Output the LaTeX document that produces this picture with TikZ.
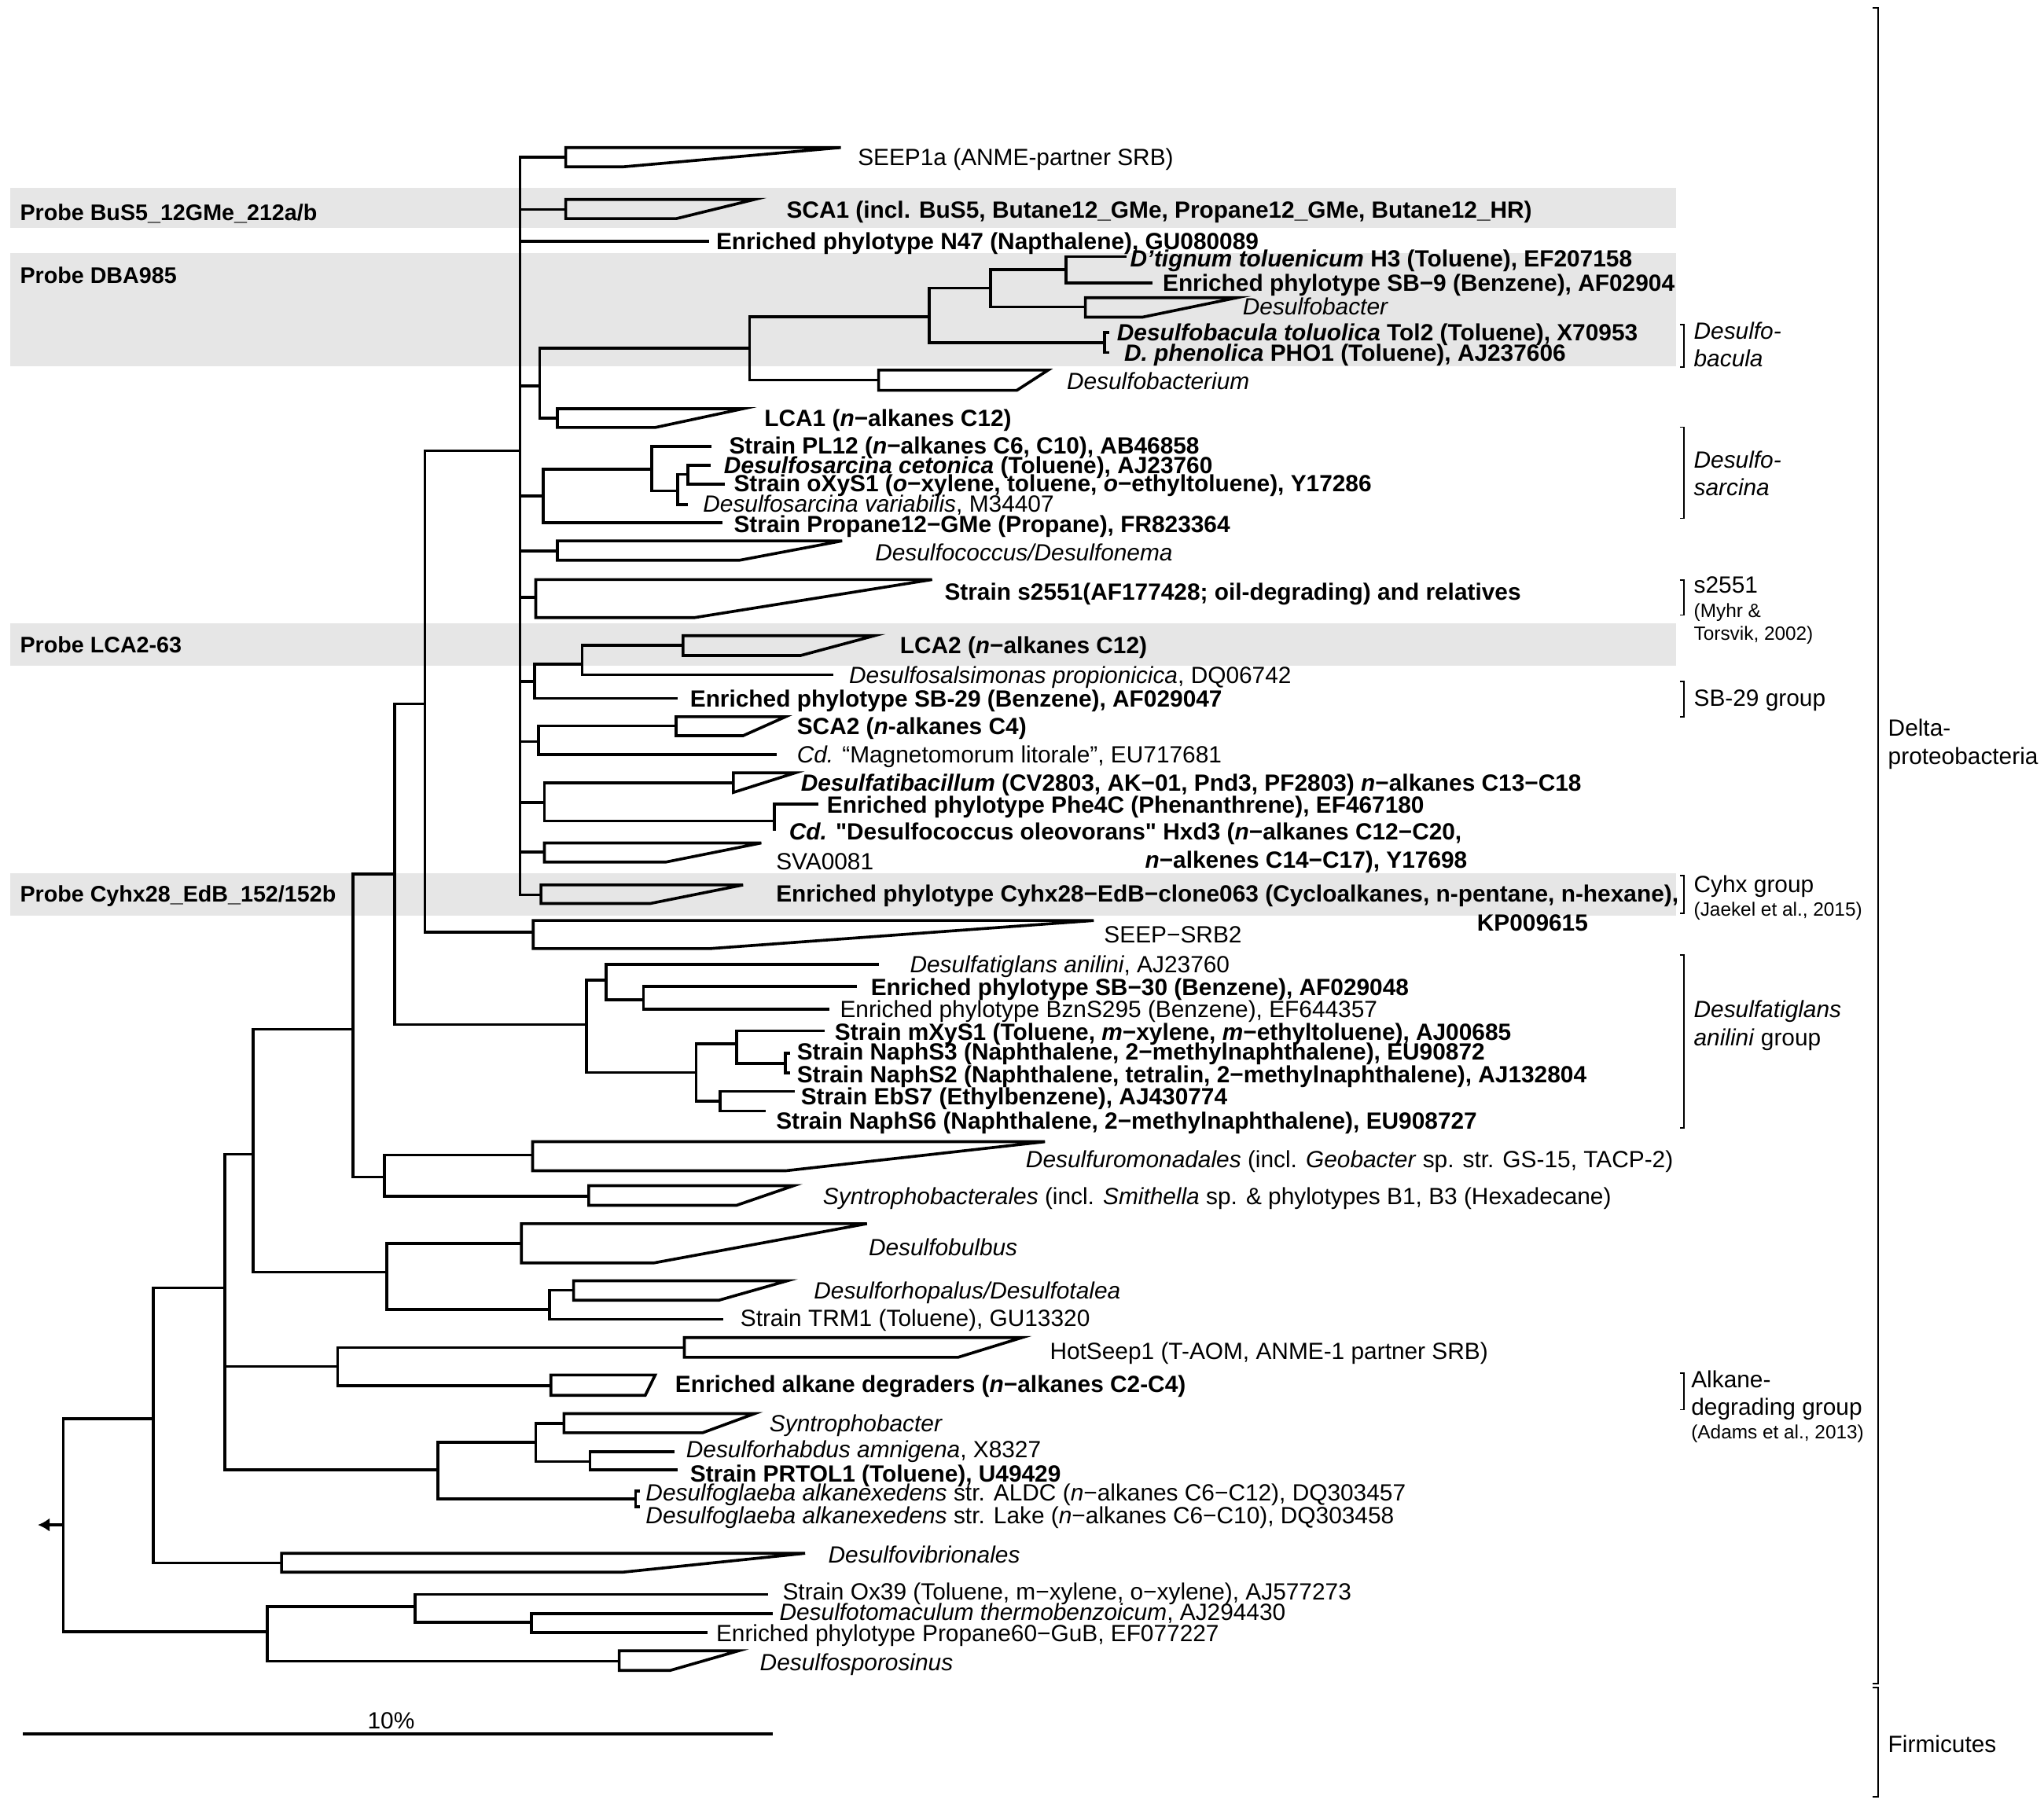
\documentclass[tikz,border=0pt]{standalone}
\usepackage{fontspec}
\setmainfont{Liberation Sans}[Ligatures=TeXOff]
\usetikzlibrary{arrows.meta}
\definecolor{probegray}{RGB}{230,230,230}
\tikzset{
  br/.style={line width=1.1pt,line join=miter},
  brk/.style={line width=0.5pt},
  lab/.style={anchor=west,inner sep=0pt,text height=6.5pt,text depth=0pt,font=\fontsize{9}{10}\selectfont},
  blab/.style={lab,font=\fontsize{9}{10}\selectfont\bfseries},
  ilab/.style={lab,font=\fontsize{9}{10}\selectfont\itshape},
  slab/.style={lab,text height=5.3pt,font=\fontsize{7.35}{8}\selectfont},
  plab/.style={lab,text height=6.2pt,font=\fontsize{8.65}{10}\selectfont\bfseries}
}
\begin{document}
\begin{tikzpicture}[x=0.5pt,y=-0.5pt]
\useasboundingbox (0,0) rectangle (1568,1386);
% probe bands
\fill[probegray] (8,144) rectangle (1285.7,175);
\fill[probegray] (8,194.3) rectangle (1285.7,281);
\fill[probegray] (8,478) rectangle (1285.7,511);
\fill[probegray] (8,670) rectangle (1285.7,702.6);
\node[plab] (p-bus5) at (15,163) {Probe BuS5\_12GMe\_212a/b};
\node[plab] (p-dba) at (15,211) {Probe DBA985};
\node[plab] (p-lca2) at (15,494.6) {Probe LCA2-63};
\node[plab] (p-cyhx) at (15,685.8) {Probe Cyhx28\_EdB\_152/152b};

% inner nodes
\coordinate (r0) at (48.5,1170);
\coordinate (n117) at (117.5,1088.7);
\coordinate (n172) at (172.5,988.2);
\coordinate (n194) at (194,885.6);
\coordinate (n270) at (270.6,789.7);
\coordinate (n302) at (302.6,670.5);
\coordinate (n326) at (326,540);
\coordinate (n399) at (399,345.8);
\coordinate (n414) at (414,296);
\coordinate (n575) at (575,267);
\coordinate (n713) at (713,243);
\coordinate (n760) at (760,221);
\coordinate (n818) at (817.6,206.7);
\coordinate (n847) at (847.5,263);
\coordinate (n417) at (416.6,380.6);
\coordinate (n500) at (500,360);
\coordinate (n520) at (520,376.6);
\coordinate (n527) at (527.5,364);
\coordinate (n410) at (410,522.7);
\coordinate (n446) at (446.6,509.7);
\coordinate (n413) at (413,569);
\coordinate (n418) at (417.6,615.6);
\coordinate (n594) at (594,629.9);
\coordinate (n450) at (450,786);
\coordinate (n465) at (465,752);
\coordinate (n494) at (493.6,767);
\coordinate (n534) at (534,822.9);
\coordinate (n565) at (565,800.8);
\coordinate (n603) at (602.6,815.8);
\coordinate (n553) at (552.6,845);
\coordinate (n295) at (295,903);
\coordinate (n296) at (296.6,976);
\coordinate (n421) at (421.6,1004.6);
\coordinate (n259) at (259,1048.5);
\coordinate (n336) at (336,1127.9);
\coordinate (n411) at (411,1106.8);
\coordinate (n453) at (452.6,1121.4);
\coordinate (n488) at (487.6,1150);
\coordinate (n205) at (205,1252);
\coordinate (n319) at (318.6,1232.8);
\coordinate (n408) at (407.6,1244.9);

% stems of collapsed groups
\coordinate (c-seep1a) at (434,120.6);
\coordinate (c-sca1) at (434,160.8);
\coordinate (c-dbacter) at (832.6,235.6);
\coordinate (c-dbacterium) at (674,291.5);
\coordinate (c-lca1) at (427.6,320.7);
\coordinate (c-dcoccus) at (427.6,422.8);
\coordinate (c-s2551) at (411,458.4);
\coordinate (c-lca2) at (524,495);
\coordinate (c-sca2) at (518.6,557);
\coordinate (c-dbacil) at (562.6,600.7);
\coordinate (c-sva) at (417.6,653.8);
\coordinate (c-cyhx) at (415,686.6);
\coordinate (c-srb2) at (409,715.3);
\coordinate (c-dmonad) at (408.6,886.2);
\coordinate (c-synales) at (451.6,917.8);
\coordinate (c-dbulbus) at (400,954);
\coordinate (c-drhop) at (440,990);
\coordinate (c-hotseep) at (525,1034);
\coordinate (c-alkdeg) at (422.6,1063.1);
\coordinate (c-synbac) at (432.6,1092);
\coordinate (c-dvib) at (216,1199.2);
\coordinate (c-dspor) at (475,1274.6);

% leaf tips
\coordinate (t-n47) at (544,185);
\coordinate (t-dtig) at (864,197);
\coordinate (t-sb9) at (884,217);
\coordinate (t-dtol) at (851,255);
\coordinate (t-dphe) at (851,270.4);
\coordinate (t-pl12) at (546,342.4);
\coordinate (t-ceto) at (545,357);
\coordinate (t-oxys) at (556,371.5);
\coordinate (t-vari) at (527.5,387);
\coordinate (t-prop12) at (554,401);
\coordinate (t-salsi) at (639,517.7);
\coordinate (t-sb29) at (520,535.8);
\coordinate (t-magn) at (596,579);
\coordinate (t-phe4c) at (627.6,616.8);
\coordinate (t-oleo) at (594,637.3);
\coordinate (t-anil) at (674,739.8);
\coordinate (t-sb30) at (657.6,757);
\coordinate (t-bzns) at (636,774.4);
\coordinate (t-mxys) at (632.6,791);
\coordinate (t-naph3) at (606,808);
\coordinate (t-naph2) at (606,823);
\coordinate (t-ebs7) at (610,837.4);
\coordinate (t-naph6) at (587.6,852.4);
\coordinate (t-trm1) at (555,1012.3);
\coordinate (t-amni) at (517.6,1113.8);
\coordinate (t-prtol) at (520,1127.9);
\coordinate (t-glaA) at (491,1144);
\coordinate (t-glaL) at (491,1156);
\coordinate (t-ox39) at (589,1223.4);
\coordinate (t-thermo) at (592.6,1238);
\coordinate (t-prop60) at (542.6,1252.5);

% branches
\draw[br] (r0) |- (n117) (r0) |- (n205);
\draw[br] (n117) |- (n172) (n117) |- (c-dvib);
\draw[br] (n172) |- (n194) (n172) |- (n259) (n172) |- (n336);
\draw[br] (n194) |- (n270) (n194) |- (n296);
\draw[br] (n270) |- (n302) (n270) |- (n295);
\draw[br] (n302) |- (n326) (n302) |- (n450);
\draw[br] (n326) |- (n399) (n326) |- (c-srb2);
\draw[br] (n399) |- (c-seep1a) (n399) |- (c-sca1) (n399) |- (t-n47) (n399) |- (n414)
  (n399) |- (n417) (n399) |- (c-dcoccus) (n399) |- (c-s2551) (n399) |- (n410)
  (n399) |- (n413) (n399) |- (n418) (n399) |- (c-sva) (n399) |- (c-cyhx);
\draw[br] (n414) |- (n575) (n414) |- (c-lca1);
\draw[br] (n575) |- (n713) (n575) |- (c-dbacterium);
\draw[br] (n713) |- (n760) (n713) |- (n847);
\draw[br] (n760) |- (n818) (n760) |- (c-dbacter);
\draw[br] (n818) |- (t-dtig) (n818) |- (t-sb9);
\draw[br] (n847) |- (t-dtol) (n847) |- (t-dphe);
\draw[br] (n417) |- (n500) (n417) |- (t-prop12);
\draw[br] (n500) |- (t-pl12) (n500) |- (n520);
\draw[br] (n520) |- (n527) (n520) |- (t-vari);
\draw[br] (n527) |- (t-ceto) (n527) |- (t-oxys);
\draw[br] (n410) |- (n446) (n410) |- (t-sb29);
\draw[br] (n446) |- (c-lca2) (n446) |- (t-salsi);
\draw[br] (n413) |- (c-sca2) (n413) |- (t-magn);
\draw[br] (n418) |- (c-dbacil) (n418) |- (n594);
\draw[br] (n594) |- (t-phe4c) (n594) |- (t-oleo);
\draw[br] (n450) |- (n465) (n450) |- (n534);
\draw[br] (n465) |- (t-anil) (n465) |- (n494);
\draw[br] (n494) |- (t-sb30) (n494) |- (t-bzns);
\draw[br] (n534) |- (n565) (n534) |- (n553);
\draw[br] (n565) |- (t-mxys) (n565) |- (n603);
\draw[br] (n603) |- (t-naph3) (n603) |- (t-naph2);
\draw[br] (n553) |- (t-ebs7) (n553) |- (t-naph6);
\draw[br] (n295) |- (c-dmonad) (n295) |- (c-synales);
\draw[br] (n296) |- (c-dbulbus) (n296) |- (n421);
\draw[br] (n421) |- (c-drhop) (n421) |- (t-trm1);
\draw[br] (n259) |- (c-hotseep) (n259) |- (c-alkdeg);
\draw[br] (n336) |- (n411) (n336) |- (n488);
\draw[br] (n411) |- (c-synbac) (n411) |- (n453);
\draw[br] (n453) |- (t-amni) (n453) |- (t-prtol);
\draw[br] (n488) |- (t-glaA) (n488) |- (t-glaL);
\draw[br] (n205) |- (n319) (n205) |- (c-dspor);
\draw[br] (n319) |- (t-ox39) (n319) |- (n408);
\draw[br] (n408) |- (t-thermo) (n408) |- (t-prop60);
\coordinate (rootarrow) at (29,1170);
\draw[br,-{Latex[length=4.5pt,width=5.2pt]}] (r0) -- (rootarrow);

% collapsed groups
\draw[br] (434,113.2) -- (645,113.2) -- (478,128) -- (434,128) -- cycle;
\draw[br] (434,153) -- (579,153) -- (519,167.7) -- (434,167.7) -- cycle;
\draw[br] (832.6,228.4) -- (949,228.4) -- (876.6,243.3) -- (832.6,243.3) -- cycle;
\draw[br] (674,284) -- (804,284) -- (780,299.5) -- (674,299.5) -- cycle;
\draw[br] (427.6,313.6) -- (570,313.6) -- (502.6,328) -- (427.6,328) -- cycle;
\draw[br] (427.6,415) -- (646,415) -- (567.6,429.8) -- (427.6,429.8) -- cycle;
\draw[br] (411,444.7) -- (715,444.7) -- (532.6,473.9) -- (411,473.9) -- cycle;
\draw[br] (524,487.7) -- (671,487.7) -- (614,503) -- (524,503) -- cycle;
\draw[br] (518.6,549.9) -- (602.7,549.9) -- (570,564.5) -- (518.6,564.5) -- cycle;
\draw[br] (562.6,593) -- (610,593) -- (562.6,608) -- cycle;
\draw[br] (417.6,646.8) -- (584,646.8) -- (511,661.4) -- (417.6,661.4) -- cycle;
\draw[br] (415,679) -- (570,679) -- (499,693.2) -- (415,693.2) -- cycle;
\draw[br] (409,706.3) -- (839,706.3) -- (545,727.8) -- (409,727.8) -- cycle;
\draw[br] (408.6,876) -- (801.6,876) -- (602.6,898.3) -- (408.6,898.3) -- cycle;
\draw[br] (451.6,909.7) -- (609,909.7) -- (565,924.8) -- (451.6,924.8) -- cycle;
\draw[br] (400,938.9) -- (665,938.9) -- (501.6,969) -- (400,969) -- cycle;
\draw[br] (440,982.7) -- (604,982.7) -- (551.6,997.6) -- (440,997.6) -- cycle;
\draw[br] (525,1026.3) -- (784,1026.3) -- (735,1041.4) -- (525,1041.4) -- cycle;
\draw[br] (422.6,1055) -- (502.6,1055) -- (495,1070.6) -- (422.6,1070.6) -- cycle;
\draw[br] (432.6,1084.6) -- (579,1084.6) -- (539,1099.3) -- (432.6,1099.3) -- cycle;
\draw[br] (216,1191.8) -- (617.6,1191.8) -- (477.6,1206.3) -- (216,1206.3) -- cycle;
\draw[br] (475,1266.6) -- (566.6,1266.6) -- (514,1281.7) -- (475,1281.7) -- cycle;

% labels
\node[lab] (l-seep1a) at (657.7,120.6) {SEEP1a (ANME-partner SRB)};
\node[blab] (l-sca1) at (603,160.8) {SCA1 (incl. BuS5, Butane12\_GMe, Propane12\_GMe, Butane12\_HR)};
\node[blab] (l-n47) at (549,185) {Enriched phylotype N47 (Napthalene), GU080089};
\node[blab] (l-dtig) at (866.6,198) {\textit{D’tignum toluenicum} H3 (Toluene), EF207158};
\node[blab] (l-sb9) at (891.6,217) {Enriched phylotype SB−9 (Benzene), AF02904};
\node[ilab] (l-dbacter) at (953,235) {Desulfobacter};
\node[blab] (l-dtol) at (856.5,255) {\textit{Desulfobacula toluolica} Tol2 (Toluene), X70953};
\node[blab] (l-dphe) at (862,270.4) {\textit{D. phenolica} PHO1 (Toluene), AJ237606};
\node[ilab] (l-dbacterium) at (818,292.5) {Desulfobacterium};
\node[blab] (l-lca1) at (586,320.7) {LCA1 (\textit{n}−alkanes C12)};
\node[blab] (l-pl12) at (559,342) {Strain PL12 (\textit{n}−alkanes C6, C10), AB46858};
\node[blab] (l-ceto) at (555,356.8) {\textit{Desulfosarcina cetonica} (Toluene), AJ23760};
\node[blab] (l-oxys) at (562.6,371) {Strain oXyS1 (\textit{o}−xylene, toluene, \textit{o}−ethyltoluene), Y17286};
\node[lab] (l-vari) at (539,386.6) {\textit{Desulfosarcina variabilis}, M34407};
\node[blab] (l-prop12) at (562.6,401.8) {Strain Propane12−GMe (Propane), FR823364};
\node[ilab] (l-dcoccus) at (671,424) {Desulfococcus/Desulfonema};
\node[blab] (l-s2551) at (724.2,454) {Strain s2551(AF177428; oil-degrading) and relatives};
\node[blab] (l-lca2) at (690,495) {LCA2 (\textit{n}−alkanes C12)};
\node[lab] (l-salsi) at (651,517.7) {\textit{Desulfosalsimonas propionicica}, DQ06742};
\node[blab] (l-sb29) at (529,535.8) {Enriched phylotype SB-29 (Benzene), AF029047};
\node[blab] (l-sca2) at (611,557) {SCA2 (\textit{n}-alkanes C4)};
\node[lab] (l-magn) at (611,579) {\textit{Cd.} “Magnetomorum litorale”, EU717681};
\node[blab] (l-dbacil) at (614,600.4) {\textit{Desulfatibacillum} (CV2803, AK−01, Pnd3, PF2803) \textit{n}−alkanes C13−C18};
\node[blab] (l-phe4c) at (634,617.6) {Enriched phylotype Phe4C (Phenanthrene), EF467180};
\node[blab] (l-oleo) at (605,638) {\textit{Cd.} "Desulfococcus oleovorans" Hxd3 (\textit{n}−alkanes C12−C20,};
\node[blab] (l-oleo2) at (878,659.4) {\textit{n}−alkenes C14−C17), Y17698};
\node[lab] (l-sva) at (595,660.5) {SVA0081};
\node[blab] (l-cyhx) at (595,685.8) {Enriched phylotype Cyhx28−EdB−clone063 (Cycloalkanes, n-pentane, n-hexane),};
\node[blab] (l-cyhx2) at (1132.7,707.6) {KP009615};
\node[lab] (l-srb2) at (846.6,716.7) {SEEP−SRB2};
\node[lab] (l-anil) at (697.7,740) {\textit{Desulfatiglans anilini}, AJ23760};
\node[blab] (l-sb30) at (667.7,757) {Enriched phylotype SB−30 (Benzene), AF029048};
\node[lab] (l-bzns) at (644,774.4) {Enriched phylotype BznS295 (Benzene), EF644357};
\node[blab] (l-mxys) at (640,791.6) {Strain mXyS1 (Toluene, \textit{m}−xylene, \textit{m}−ethyltoluene), AJ00685};
\node[blab] (l-naph3) at (611,806.6) {Strain NaphS3 (Naphthalene, 2−methylnaphthalene), EU90872};
\node[blab] (l-naph2) at (611,824.2) {Strain NaphS2 (Naphthalene, tetralin, 2−methylnaphthalene), AJ132804};
\node[blab] (l-ebs7) at (614,841) {Strain EbS7 (Ethylbenzene), AJ430774};
\node[blab] (l-naph6) at (595,860) {Strain NaphS6 (Naphthalene, 2−methylnaphthalene), EU908727};
\node[lab] (l-dmonad) at (786.6,889.6) {\textit{Desulfuromonadales} (incl. \textit{Geobacter} sp. str. GS-15, TACP-2)};
\node[lab] (l-synales) at (631,918) {\textit{Syntrophobacterales} (incl. \textit{Smithella} sp. \& phylotypes B1, B3 (Hexadecane)};
\node[ilab] (l-dbulbus) at (666,957) {Desulfobulbus};
\node[ilab] (l-drhop) at (624,990) {Desulforhopalus/Desulfotalea};
\node[lab] (l-trm1) at (567.6,1011) {Strain TRM1 (Toluene), GU13320};
\node[lab] (l-hotseep) at (805,1036.4) {HotSeep1 (T-AOM, ANME-1 partner SRB)};
\node[blab] (l-alkdeg) at (517.6,1062) {Enriched alkane degraders (\textit{n}−alkanes C2-C4)};
\node[ilab] (l-synbac) at (590,1092) {Syntrophobacter};
\node[lab] (l-amni) at (526,1111.6) {\textit{Desulforhabdus amnigena}, X8327};
\node[blab] (l-prtol) at (529,1130.6) {Strain PRTOL1 (Toluene), U49429};
\node[lab] (l-glaA) at (495,1145.2) {\textit{Desulfoglaeba alkanexedens} str. ALDC (\textit{n}−alkanes C6−C12), DQ303457};
\node[lab] (l-glaL) at (495,1162.6) {\textit{Desulfoglaeba alkanexedens} str. Lake (\textit{n}−alkanes C6−C10), DQ303458};
\node[ilab] (l-dvib) at (635,1193) {Desulfovibrionales};
\node[lab] (l-ox39) at (600,1220.8) {Strain Ox39 (Toluene, m−xylene, o−xylene), AJ577273};
\node[lab] (l-thermo) at (597.6,1237) {\textit{Desulfotomaculum thermobenzoicum}, AJ294430};
\node[lab] (l-prop60) at (549,1252.8) {Enriched phylotype Propane60−GuB, EF077227};
\node[ilab] (l-dspor) at (582.6,1275.6) {Desulfosporosinus};

% group brackets
\draw[brk] (1288.7,249) -| (1291.7,281.5) -- (1288.7,281.5);
\draw[brk] (1288.7,327.7) -| (1291.7,397.7) -- (1288.7,397.7);
\draw[brk] (1288.7,445) -| (1291.7,472) -- (1288.7,472);
\draw[brk] (1288.7,522.7) -| (1291.7,550) -- (1288.7,550);
\draw[brk] (1288.7,672) -| (1291.7,700.7) -- (1288.7,700.7);
\draw[brk] (1288.7,732.8) -| (1291.7,865.5) -- (1288.7,865.5);
\draw[brk] (1288.7,1053.5) -| (1291.7,1081.6) -- (1288.7,1081.6);
\node[ilab] (g-dbacula1) at (1299,254) {Desulfo-};
\node[ilab] (g-dbacula2) at (1299,275) {bacula};
\node[ilab] (g-dsarc1) at (1299,352.8) {Desulfo-};
\node[ilab] (g-dsarc2) at (1299,374) {sarcina};
\node[lab] (g-s2551) at (1299,448.7) {s2551};
\node[slab] (g-myhr1) at (1299,468.4) {(Myhr \&};
\node[slab] (g-myhr2) at (1299,486) {Torsvik, 2002)};
\node[lab] (g-sb29) at (1299,535.6) {SB-29 group};
\node[lab] (g-cyhx) at (1299,678.5) {Cyhx group};
\node[slab] (g-jaekel) at (1299,697.6) {(Jaekel et al., 2015)};
\node[ilab] (g-dglans1) at (1299,774) {Desulfatiglans};
\node[lab] (g-dglans2) at (1299,795.7) {\textit{anilini} group};
\node[lab] (g-alk1) at (1297,1058.5) {Alkane-};
\node[lab] (g-alk2) at (1297,1079.6) {degrading group};
\node[slab] (g-adams) at (1297,1098.7) {(Adams et al., 2013)};

% phyla
\draw[brk] (1436.7,6) -| (1440.7,1291.7) -- (1436.7,1291.7);
\draw[brk] (1436.7,1294.7) -| (1440.7,1378.8) -- (1436.7,1378.8);
\node[lab] (g-delta1) at (1448,558) {Delta-};
\node[lab] (g-delta2) at (1448,580) {proteobacteria};
\node[lab] (g-firm) at (1448,1338) {Firmicutes};

% scale bar
\coordinate (sb-l) at (17.5,1330.5);
\coordinate (sb-r) at (592.6,1330.5);
\draw[br] (sb-l) -- (sb-r);
\node[lab,anchor=center] (sb-lab) at (300,1319.8) {10\%};
\end{tikzpicture}
\end{document}
